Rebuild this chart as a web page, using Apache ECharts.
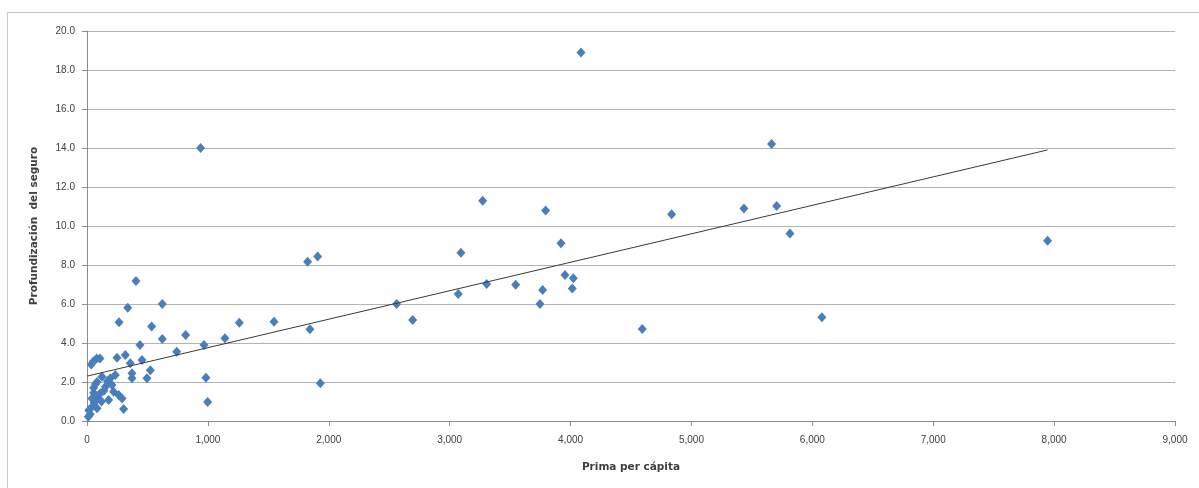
<!DOCTYPE html>
<html>
<head>
<meta charset="utf-8">
<script src="https://cdn.jsdelivr.net/npm/echarts@6/dist/echarts.min.js"></script>
<style>
html,body{margin:0;padding:0;background:#fff;}
#c{width:1199px;height:488px;}
</style>
</head>
<body>
<div id="c"></div>
<script>
// Prima per cápita (x) and Profundización del seguro (y)
var primaPerCapita = [
  11, 27, 15, 40, 83, 60, 41, 90, 55, 110, 140, 179, 220, 262, 290, 303, 55, 152, 83, 207,
  124, 193, 234, 170, 35, 52, 80, 107, 248, 317, 358, 455, 372, 372, 524, 496, 438, 70, 120,
  405, 337, 623, 265, 535, 623, 742, 816, 968, 1141, 1260, 1547, 940, 984, 998,
  1825, 1908, 1844, 1930, 2561, 2694, 3093, 3071, 3273, 3306, 3546, 3794, 3769, 3747,
  3921, 3954, 4023, 4014, 4086, 4593, 4836, 5434, 5663, 5705, 5815, 6079, 7946
];
var profundizacion = [
  0.22, 0.35, 0.55, 0.72, 0.65, 0.95, 1.16, 1.2, 1.45, 1.42, 1.55, 1.08, 1.5, 1.33, 1.16, 0.62, 1.7, 1.76, 2.0, 1.85,
  2.27, 2.19, 2.36, 2.05, 2.9, 3.05, 3.2, 3.2, 3.25, 3.38, 2.96, 3.13, 2.45, 2.19, 2.6, 2.19, 3.9, 1.9, 1.0,
  7.18, 5.81, 6.0, 5.06, 4.84, 4.2, 3.55, 4.41, 3.9, 4.24, 5.04, 5.09, 14.0, 2.22, 0.97,
  8.17, 8.43, 4.7, 1.93, 6.0, 5.18, 8.63, 6.51, 11.3, 7.03, 6.99, 10.8, 6.72, 6.0,
  9.11, 7.49, 7.32, 6.8, 18.9, 4.72, 10.6, 10.9, 14.2, 11.03, 9.62, 5.32, 9.25
];
// Linear trendline endpoints
var trendX = [0, 7946];
var trendY = [2.3, 13.9];

var xTitle = 'Prima per cápita';
var yTitle = 'Profundización  del seguro';

var points = primaPerCapita.map(function (x, i) { return [x, profundizacion[i]]; });
var trend = trendX.map(function (x, i) { return [x, trendY[i]]; });

var font = 'Liberation Sans, Arial, sans-serif';
var titleFont = 'DejaVu Sans, Liberation Sans, sans-serif';
var chart = echarts.init(document.getElementById('c'), null, {renderer: 'canvas'});
chart.setOption({
  animation: false,
  backgroundColor: '#fff',
  graphic: [{
    type: 'rect', silent: true, z: -10,
    shape: {x: 7.5, y: 12.5, width: 1200, height: 490},
    style: {fill: 'none', stroke: '#c8c8c8', lineWidth: 1}
  }],
  grid: {left: 87, right: 24, top: 31, bottom: 67, containLabel: false},
  xAxis: {
    type: 'value', min: 0, max: 9000, interval: 1000,
    name: xTitle, nameLocation: 'middle', nameGap: 41,
    nameTextStyle: {fontFamily: titleFont, fontSize: 10.5, fontWeight: 'bold', color: '#404040'},
    axisLine: {show: true, onZero: false, lineStyle: {color: '#8c8c8c', width: 1}},
    axisTick: {show: true, inside: false, length: 5, lineStyle: {color: '#8c8c8c'}},
    axisLabel: {
      fontFamily: font, fontSize: 10, color: '#404040', margin: 14,
      formatter: function (v) { return v.toLocaleString('en-US'); }
    },
    splitLine: {show: false}
  },
  yAxis: {
    type: 'value', min: 0, max: 20, interval: 2,
    name: yTitle, nameLocation: 'middle', nameGap: 47,
    nameTextStyle: {fontFamily: titleFont, fontSize: 10.5, fontWeight: 'bold', color: '#404040'},
    axisLine: {show: true, lineStyle: {color: '#8c8c8c', width: 1}},
    axisTick: {show: true, inside: false, length: 5, lineStyle: {color: '#8c8c8c'}},
    axisLabel: {
      fontFamily: font, fontSize: 10, color: '#404040', margin: 12,
      formatter: function (v) { return v.toFixed(1); }
    },
    splitLine: {show: true, lineStyle: {color: '#b4b4b4', width: 1}}
  },
  series: [{
    type: 'scatter',
    data: points,
    symbol: 'diamond',
    symbolSize: [9, 10],
    itemStyle: {color: '#4a7ebb', opacity: 1},
    z: 3
  }, {
    type: 'line',
    data: trend,
    symbol: 'none',
    lineStyle: {color: '#3a3a3a', width: 1},
    z: 4
  }]
});
</script>
</body>
</html>
